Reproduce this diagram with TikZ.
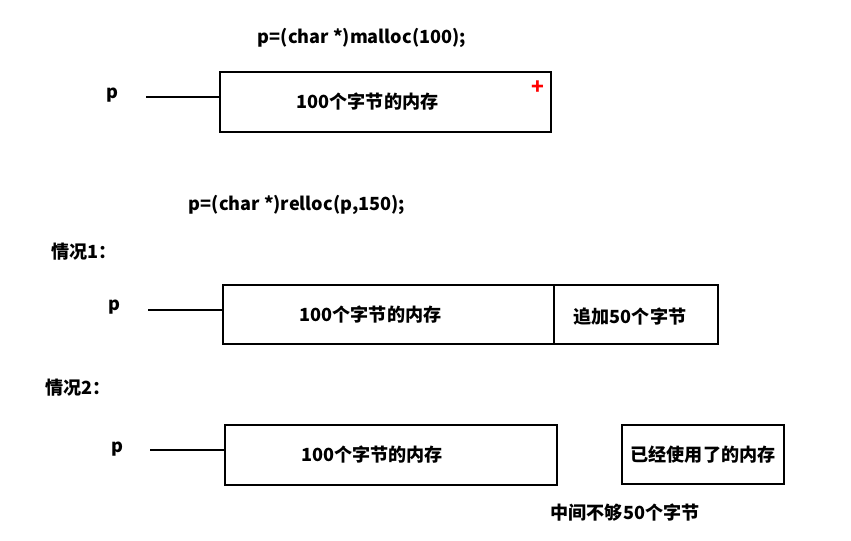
\documentclass[tikz,border=0pt]{standalone}
\usepackage{fontspec}
\setmainfont{Noto Sans CJK SC}
\usepackage{xcolor}
\usepackage{tikz}
\usetikzlibrary{positioning}

\tikzset{
  membox/.style={draw,line width=1.1pt,minimum height=1.2cm,inner sep=0pt,outer sep=0pt},
  ptr/.style={line width=1.1pt}
}

\begin{document}
\begin{tikzpicture}[font=\bfseries\fontsize{10.3}{12}\selectfont]
\useasboundingbox (0,0) rectangle (17.02,-10.82);
% malloc
\node (title1) at (7.24,-0.76) {p=(char *)malloc(100);};
\node (p1) at (2.24,-1.9) {p};
\node[membox,minimum width=6.62cm] (mem1) at (7.71,-2.04) {};
\node[xshift=-0.36cm] (mem1txt) at (mem1) {100个字节的内存};
\coordinate (p1end) at (2.92,-1.94);
\draw[ptr] (p1end) -- (mem1.west |- p1end);
\node[red,font=\bfseries\large] (plus) at (10.76,-1.76) {+};

% realloc
\node (title2) at (5.94,-4.1) {p=(char *)relloc(p,150);};

% case 1
\node[anchor=west] (case1) at (0.9,-5.04) {情况1：};
\node (p2) at (2.28,-6.14) {p};
\node[membox,minimum width=6.62cm,minimum height=1.18cm] (mem2) at (7.77,-6.29) {};
\node[xshift=-0.36cm] (mem2txt) at (mem2) {100个字节的内存};
\node[membox,minimum width=3.28cm,minimum height=1.18cm,anchor=west] (extra) at (mem2.east) {};
\node[xshift=-0.12cm,yshift=-0.04cm] (extratxt) at (extra) {追加50个字节};
\coordinate (p2end) at (2.96,-6.2);
\draw[ptr] (p2end) -- (mem2.west |- p2end);

% case 2
\node[anchor=west] (case2) at (0.78,-7.76) {情况2：};
\node (p3) at (2.34,-8.98) {p};
\node[membox,minimum width=6.64cm] (mem3) at (7.82,-9.1) {};
\node[xshift=-0.38cm] (mem3txt) at (mem3) {100个字节的内存};
\node[membox,minimum width=3.24cm,minimum height=1.18cm] (used) at (14.06,-9.09) {已经使用了的内存};
\coordinate (p3end) at (3.0,-9.0);
\draw[ptr] (p3end) -- (mem3.west |- p3end);
\node (gap) at (12.5,-10.26) {中间不够50个字节};
\end{tikzpicture}
\end{document}
